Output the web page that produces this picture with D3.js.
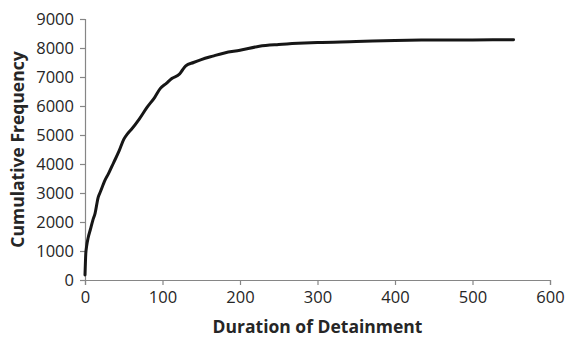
<!DOCTYPE html>
<html>
<head>
<meta charset="utf-8">
<script src="https://cdn.jsdelivr.net/npm/d3@7"></script>
<style>
  body { margin: 0; background: #fff; }
  svg text { font-family: "Open Sans", sans-serif; fill: #262626; }
</style>
</head>
<body>
<div class="chart"></div>
<script>
// cumulative frequency vs duration
var duration = [0, 1, 2, 4, 7, 10, 13, 17, 20, 26, 30, 37, 44, 50, 55, 60, 70, 80, 90, 97,
  105, 112, 122, 126, 130, 140, 150, 165, 180, 200, 225, 250, 275, 300, 350, 400, 450, 500, 553];
var cumFreq = [170, 900, 1150, 1450, 1750, 2050, 2300, 2850, 3050, 3450, 3650, 4050, 4450, 4850, 5050, 5200, 5550, 5950, 6300, 6600,
  6780, 6950, 7100, 7250, 7380, 7500, 7600, 7720, 7830, 7920, 8060, 8120, 8160, 8190, 8220, 8260, 8275, 8280, 8285];
var xTicks = [0, 100, 200, 300, 400, 500, 600];
var yTicks = [0, 1000, 2000, 3000, 4000, 5000, 6000, 7000, 8000, 9000];

var width = 567, height = 339;
var margin = {top: 19, right: 17, bottom: 59, left: 85};

var svg = d3.select(".chart").append("svg")
  .attr("width", width)
  .attr("height", height);

var x = d3.scaleLinear().domain([0, 600]).range([margin.left, width - margin.right]);
var y = d3.scaleLinear().domain([0, 9000]).range([height - margin.bottom, margin.top]);

var xAxis = svg.append("g")
  .attr("transform", "translate(0," + (height - margin.bottom) + ")")
  .call(d3.axisBottom(x).tickValues(xTicks).tickSize(5).tickPadding(6).tickFormat(d3.format("d")));
var yAxis = svg.append("g")
  .attr("transform", "translate(" + margin.left + ",0)")
  .call(d3.axisLeft(y).tickValues(yTicks).tickSize(5).tickPadding(6).tickFormat(d3.format("d")));

[xAxis, yAxis].forEach(function (g) {
  g.selectAll("path, line").attr("stroke", "#868686").attr("stroke-width", 1.2);
  g.selectAll("text").style("font-size", "16.5px").attr("fill", "#262626");
});

var pts = duration.map(function (d, i) { return [d, cumFreq[i]]; });

svg.append("path")
  .datum(pts)
  .attr("fill", "none")
  .attr("stroke", "#161616")
  .attr("stroke-width", 3)
  .attr("stroke-linejoin", "round")
  .attr("stroke-linecap", "round")
  .attr("d", d3.line()
    .x(function (d) { return x(d[0]); })
    .y(function (d) { return y(d[1]); })
    .curve(d3.curveMonotoneX));

svg.append("text")
  .attr("x", (margin.left + width - margin.right) / 2)
  .attr("y", 333)
  .attr("text-anchor", "middle")
  .style("font-size", "17.5px")
  .style("font-weight", "bold")
  .text("Duration of Detainment");

svg.append("text")
  .attr("transform", "translate(24," + ((margin.top + height - margin.bottom) / 2) + ") rotate(-90)")
  .attr("text-anchor", "middle")
  .style("font-size", "17.5px")
  .style("font-weight", "bold")
  .text("Cumulative Frequency");
</script>
</body>
</html>
